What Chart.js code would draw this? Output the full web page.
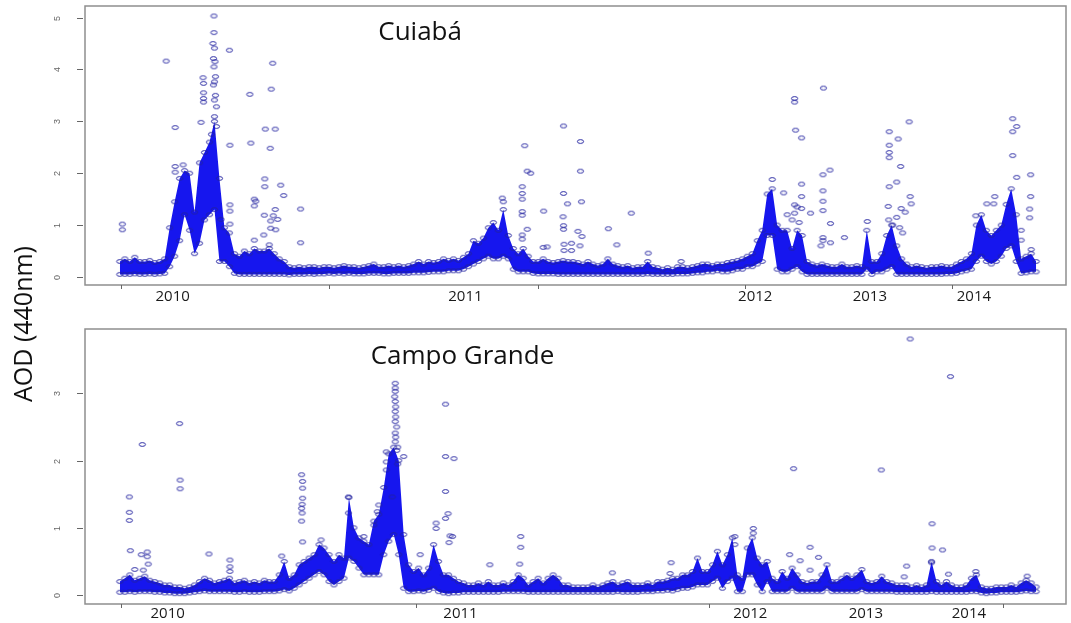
<!DOCTYPE html>
<html><head><meta charset="utf-8">
<script src="https://cdn.jsdelivr.net/npm/chart.js@4.4.1/dist/chart.umd.min.js"></script>
<style>
html,body{margin:0;padding:0;background:#fff;width:1071px;height:623px;overflow:hidden}
#wrap{position:relative;width:1071px;height:623px}
#c1{position:absolute;left:0;top:0}
#c2{position:absolute;left:0;top:310px}
#ytitle{position:absolute;left:22px;top:324px;transform:translate(-50%,-50%) rotate(-90deg);font:25px 'Open Sans';white-space:nowrap;color:#111}
</style></head>
<body><div id="wrap">
<canvas id="c1" width="1071" height="310"></canvas>
<canvas id="c2" width="1071" height="313"></canvas>
<div id="ytitle">AOD (440nm)</div>
</div>
<script>
// ---- DATA (x = sampling step index, y = AOD 440nm) ----
const yearLabels = ['2010','2011','2012','2013','2014'];

const cuiabaLow = [.05,.05,.05,.06,.05,.05,.06,.05,.06,.07,.2,.4,.7,1.2,.9,.45,.65,1.1,1.2,1.3,
.3,.3,.2,.07,.05,.05,.05,.05,.05,.05,.05,.05,.05,.05,.04,.05,.05,.05,.06,.05,
.06,.06,.07,.06,.07,.06,.07,.06,.06,.06,.07,.07,.07,.06,.06,.07,.07,.07,.07,.08,
.08,.08,.09,.1,.1,.1,.12,.12,.12,.15,.2,.25,.3,.35,.4,.35,.35,.4,.35,.15,
.1,.1,.1,.07,.06,.06,.06,.06,.05,.05,.05,.05,.05,.05,.05,.05,.05,.05,.05,.05,
.05,.05,.05,.05,.05,.05,.06,.05,.05,.05,.05,.05,.06,.06,.06,.07,.08,.08,.1,.1,
.12,.1,.1,.12,.15,.15,.2,.2,.25,.3,.8,.8,.15,.1,.1,.15,.2,.1,.05,.05,
.05,.05,.05,.05,.05,.05,.05,.05,.05,.05,.15,.05,.1,.1,.15,.2,.05,.05,.05,.05,
.05,.05,.05,.05,.05,.05,.06,.06,.07,.1,.12,.15,.3,.4,.3,.25,.3,.4,.55,.6,
.3,.07,.08,.1,.1];
const cuiabaHigh = [.3,.35,.3,.38,.3,.3,.32,.28,.3,.35,.95,1.45,1.9,2.05,2.0,1.25,2.2,2.4,2.6,3.0,
1.9,.95,.85,.45,.4,.5,.45,.55,.5,.5,.55,.45,.35,.3,.2,.18,.2,.18,.2,.2,
.18,.2,.2,.18,.2,.22,.2,.2,.18,.2,.22,.25,.2,.2,.22,.2,.22,.2,.22,.25,
.3,.25,.3,.28,.3,.35,.32,.35,.32,.38,.45,.7,.65,.75,.95,1.05,.9,1.3,.8,.55,
.45,.55,.4,.3,.3,.35,.3,.28,.3,.32,.3,.3,.28,.25,.3,.25,.22,.25,.35,.25,
.22,.2,.22,.18,.2,.2,.3,.2,.18,.15,.18,.15,.2,.2,.18,.2,.22,.25,.25,.22,
.25,.25,.28,.3,.32,.35,.4,.45,.7,.9,1.6,1.7,1.0,.9,.9,.55,.9,.8,.3,.25,
.22,.25,.22,.2,.2,.25,.2,.2,.22,.2,.9,.3,.3,.45,.8,1.0,.6,.35,.25,.2,
.22,.2,.18,.2,.2,.22,.2,.2,.25,.3,.35,.45,1.0,1.2,.9,.8,.9,1.0,1.4,1.7,
1.2,.35,.4,.45,.3];
const cuiabaExtra = [[0.5,1.02],[0.5,0.91],[9.3,4.16],[11.1,2.88],[11.1,2.13],[11.1,2.02],[12.7,2.16],
[16.3,2.98],[16.7,3.84],[16.8,3.73],[16.8,3.55],[16.8,3.44],[16.8,3.37],[18.9,5.03],[18.9,4.71],
[18.7,4.5],[19.0,4.41],[18.8,4.21],[19.1,4.15],[18.9,4.05],[19.2,3.86],[19.0,3.76],[18.8,3.7],
[19.2,3.5],[19.0,3.41],[19.4,3.28],[19.0,3.09],[19.4,2.9],[18.4,2.75],
[22,4.37],[22.1,2.54],[26.1,3.52],[26.3,2.58],[30.7,4.12],[30.4,3.62],[29.2,2.85],[31.2,2.85],
[30.2,2.48],[29.1,1.89],[29.1,1.74],[32.3,1.77],[32.9,1.57],[27,1.5],[27.3,1.46],[27,1.37],
[36.3,1.31],[31.2,1.3],[30.8,1.18],[31.7,1.11],[29,1.19],[30.3,1.08],[30.3,0.94],[31.3,0.91],
[36.3,0.66],[28.9,0.81],[27,0.71],[30,0.62],[22.1,1.39],[22.1,1.27],[20.3,1.11],[22.1,1.02],
[77,1.45],[76.8,1.52],
[80.8,1.74],[80.8,1.61],[80.8,1.5],[80.8,1.26],[80.8,1.19],[81.3,2.53],[81.8,2.04],[82.5,2.0],
[81.8,0.92],[80.8,0.81],[80.8,0.73],[85.1,1.27],[85,0.57],[85.8,0.58],[89.1,2.91],[92.5,2.61],
[92.5,2.04],[89.1,1.61],[89.9,1.41],[92.7,1.45],[89,1.16],[89.1,0.99],[89.1,0.92],[92,0.88],
[92.8,0.78],[89.2,0.63],[90.7,0.65],[92.4,0.6],[89.2,0.51],[90.7,0.51],[98.1,0.93],[99.8,0.62],
[102.7,1.23],[106.1,0.46],[112.7,0.3],
[131,1.88],[133.3,1.62],[135.5,3.44],[135.5,3.37],[135.7,2.83],[136.9,2.68],[136.9,1.79],
[136.9,1.55],[135.5,1.39],[136.9,1.32],[138.7,1.23],[135.5,1.23],[141.3,3.64],[141.2,1.97],
[142.6,2.06],[141.2,1.66],[141.2,1.46],[141.2,1.28],[142.7,1.03],[141.2,0.76],[141.2,0.7],
[142.7,0.66],[140.8,0.6],[145.5,0.76],[134,1.2],[135,1.1],[136,1.35],[136.4,1.05],
[150.1,1.07],[154.5,2.8],[154.5,2.54],[154.5,2.4],[154.5,2.3],[156.3,2.66],[158.5,2.99],
[156.8,2.13],[156,1.83],[154.5,1.74],[158.7,1.55],[158.9,1.41],[156.9,1.32],[154.3,1.36],
[157.7,1.25],[154.4,1.1],[155.2,1.0],[156,1.15],[156.6,0.95],[157.2,0.85],
[179.3,3.05],[180.1,2.9],[179.3,2.8],[179.3,2.34],[180.1,1.92],[182.9,1.97],[182.9,1.55],
[182.7,1.31],[182.7,1.14],[175.7,1.55],[174.1,1.41],[175.5,1.41],[171.9,1.18],[181,0.9],
[181,0.71],[183,0.53]];

const campoLow = [.04,.04,.05,.04,.05,.05,.05,.04,.04,.03,.03,.02,.02,.02,.03,.04,.05,.06,.05,.05,
.05,.05,.05,.04,.04,.05,.04,.04,.04,.05,.05,.05,.06,.08,.06,.1,.15,.2,.25,.3,
.35,.3,.2,.15,.2,.25,.55,.5,.4,.3,.3,.3,.3,.6,.8,.9,.6,.1,.05,.05,
.06,.05,.07,.1,.05,.03,.02,.03,.03,.04,.04,.04,.04,.04,.04,.04,.04,.05,.05,.05,
.05,.05,.04,.04,.04,.04,.04,.04,.04,.04,.04,.04,.04,.04,.04,.04,.04,.04,.04,.04,
.05,.04,.04,.04,.04,.05,.05,.05,.06,.06,.07,.06,.08,.1,.1,.12,.15,.15,.15,.2,
.25,.1,.2,.25,.05,.05,.3,.3,.15,.05,.2,.05,.05,.05,.05,.1,.05,.05,.05,.05,
.05,.05,.1,.05,.05,.05,.05,.05,.05,.08,.05,.05,.05,.05,.05,.05,.04,.04,.04,.04,
.04,.04,.04,.05,.04,.04,.04,.04,.04,.04,.04,.05,.05,.03,.02,.03,.03,.04,.04,.04,
.04,.05,.06,.05,.05];
const campoHigh = [.2,.25,.3,.22,.25,.28,.22,.2,.18,.15,.15,.12,.12,.1,.12,.15,.2,.25,.22,.18,
.2,.22,.25,.18,.2,.22,.18,.2,.18,.22,.2,.2,.3,.5,.25,.3,.45,.5,.55,.6,
.75,.7,.6,.5,.6,.55,1.45,1.0,.85,.8,.75,1.1,1.2,1.6,2.1,2.2,2.0,.9,.45,.35,
.4,.3,.4,.75,.5,.3,.3,.25,.2,.18,.15,.15,.18,.15,.2,.15,.15,.18,.15,.2,
.3,.25,.15,.2,.25,.18,.25,.3,.25,.15,.15,.12,.12,.12,.12,.15,.12,.15,.18,.2,
.15,.18,.2,.15,.15,.15,.18,.15,.2,.2,.22,.25,.25,.3,.3,.35,.55,.35,.35,.45,
.65,.45,.6,.85,.3,.25,.7,.85,.55,.45,.5,.25,.2,.35,.25,.4,.3,.2,.18,.2,
.2,.3,.45,.2,.2,.25,.3,.25,.3,.38,.2,.18,.2,.28,.2,.18,.15,.15,.15,.12,
.15,.12,.15,.5,.2,.15,.2,.15,.12,.12,.15,.25,.3,.12,.1,.1,.12,.12,.12,.15,
.12,.18,.22,.18,.12];
const campoExtra = [[1.9,1.46],[1.9,1.23],[1.9,1.11],[4.5,2.24],[12,2.55],[12.1,1.71],[12.1,1.58],
[2.1,0.66],[17.9,0.61],[5.5,0.64],[5.5,0.57],[5.7,0.46],[4.3,0.6],[3,0.38],[4.7,0.37],
[22.1,0.52],[22.1,0.42],[22.1,0.35],[32.5,0.58],[36.5,1.79],[36.7,1.69],[36.7,1.59],[36.7,1.44],
[36.6,1.35],[36.5,1.29],[36.6,1.22],[36.5,1.1],[36.7,0.79],[40.4,0.82],[45.9,1.46],[45.9,1.22],
[55.3,3.15],[55.3,3.08],[55.3,3.03],[55.2,2.95],[55.3,2.88],[55.4,2.8],[55.3,2.73],[55.4,2.65],
[55.3,2.58],[55.6,2.5],[55.3,2.41],[55.4,2.35],[55.3,2.28],[55.8,2.2],[55.6,2.15],[55.8,1.95],
[53.5,2.13],[53.5,1.98],[53.5,1.86],[54.7,1.46],[52,1.34],[51.7,1.24],[51,1.04],[49,0.87],[57,2.06],
[65.4,2.84],[65.4,2.06],[67.1,2.03],[65.4,1.54],[65.9,1.21],[65.4,1.14],[66.3,0.88],[66.8,0.87],
[66.1,0.78],[63.5,1.07],[63.5,0.99],[80.5,0.87],[80.5,0.71],[80.3,0.46],[60.3,0.6],[74.3,0.45],
[110.7,0.48],[110.5,0.32],[98.9,0.33],
[135.3,1.88],[152.9,1.86],[158.7,3.81],[166.8,3.25],[163.1,1.06],[163.1,0.7],[165.2,0.67],
[163,0.48],[158,0.43],[127.2,0.99],[127.2,0.92],[123.5,0.87],[123.5,0.75],[138.6,0.71],
[140.3,0.56],[136.6,0.51],[134.5,0.6],[138.6,0.37],[182.2,0.28],[166.4,0.31],[157.5,0.27],[171.9,0.35]];

// axis tick marks / label anchors (in sampling-index units)
const cuiabaTickMarks = [0.2, 42, 84, 125.6, 167.2];
const cuiabaLabelPos  = [10.6, 69.4, 127.6, 150.6, 171.5];
const campoTickMarks  = [0.2, 59.4, 118.4, 177.4];
const campoLabelPos   = [9.6, 68.4, 126.6, 149.8, 170.5];
const cuiabaYTicks = [0,1,2,3,4,5];
const campoYTicks  = [0,1,2,3];

// ---- rendering ----
function ellipseImg(){
  const c=document.createElement('canvas'); c.width=9; c.height=7;
  const g=c.getContext('2d');
  g.strokeStyle='rgba(35,35,160,0.95)'; g.lineWidth=1;
  g.beginPath(); g.ellipse(4.5,3.5,3.1,1.9,0,0,Math.PI*2); g.stroke();
  return c;
}
const ell = ellipseImg();

const framePlugin = {
  id:'frame',
  afterDraw(chart, args, o){
    const {ctx, chartArea:a, scales:{x,y}} = chart;
    ctx.save();
    ctx.strokeStyle='#8e8e8e'; ctx.lineWidth=1.5;
    ctx.strokeRect(a.left, a.top, a.right-a.left, a.bottom-a.top);
    ctx.strokeStyle='#666'; ctx.lineWidth=1;
    ctx.fillStyle='#666'; ctx.font='9px "Liberation Sans"';
    ctx.textAlign='center'; ctx.textBaseline='middle';
    o.yTicks.forEach(v=>{
      const py=Math.round(y.getPixelForValue(v))+0.5;
      ctx.beginPath(); ctx.moveTo(a.left-8,py); ctx.lineTo(a.left-2,py); ctx.stroke();
      ctx.save(); ctx.translate(a.left-27,py); ctx.rotate(-Math.PI/2);
      ctx.fillText(String(v),0,0); ctx.restore();
    });
    o.xTicks.forEach(v=>{
      const px=Math.round(x.getPixelForValue(v))+0.5;
      ctx.beginPath(); ctx.moveTo(px,a.bottom); ctx.lineTo(px,a.bottom+4); ctx.stroke();
    });
    ctx.fillStyle='#1a1a1a'; ctx.font='15px "Open Sans"';
    o.labels.forEach((t,k)=>{
      ctx.fillText(t, x.getPixelForValue(o.labelPos[k]), a.bottom+o.labelDy);
    });
    ctx.fillStyle='#111'; ctx.font='26px "Open Sans"';
    ctx.fillText(o.title, x.getPixelForValue(o.titleAt[0]), y.getPixelForValue(o.titleAt[1]));
    ctx.restore();
  }
};

function makeChart(id, lo, hi, extra, cfg){
  const pts = arr => arr.map((v,i)=>({x:i,y:v}));
  return new Chart(document.getElementById(id), {
    type:'scatter',
    data:{datasets:[
      {type:'line', data:pts(lo), borderWidth:0, pointRadius:0, fill:false, tension:0, order:3},
      {type:'line', data:pts(hi), borderWidth:0, pointRadius:0, fill:'-1', tension:0,
       backgroundColor:'rgb(22,22,238)', order:3},
      {data:pts(lo), pointStyle:ell, pointRadius:3, order:1},
      {data:pts(hi), pointStyle:ell, pointRadius:3, order:1},
      {data:extra.map(p=>({x:p[0],y:p[1]})), pointStyle:ell, pointRadius:3, order:1}
    ]},
    options:{
      responsive:false, animation:false, events:[],
      layout:{padding:cfg.pad},
      plugins:{legend:{display:false}, tooltip:{enabled:false},
        frame:{yTicks:cfg.yTicks, xTicks:cfg.xTicks, labels:yearLabels, labelPos:cfg.labelPos,
               labelDy:cfg.labelDy, title:cfg.title, titleAt:cfg.titleAt}},
      scales:{
        x:{type:'linear', display:false, min:-7, max:190},
        y:{type:'linear', display:false, min:cfg.ymin, max:cfg.ymax}
      }
    },
    plugins:[framePlugin]
  });
}

makeChart('c1', cuiabaLow, cuiabaHigh, cuiabaExtra, {
  pad:{left:85, right:1, top:6, bottom:25},
  ymin:-0.154, ymax:5.222, yTicks:cuiabaYTicks, xTicks:cuiabaTickMarks,
  labelPos:cuiabaLabelPos, labelDy:11.5, title:'Cuiabá', titleAt:[60.3, 4.70]
});
makeChart('c2', campoLow, campoHigh, campoExtra, {
  pad:{left:85, right:1, top:19, bottom:19},
  ymin:-0.134, ymax:3.958, yTicks:campoYTicks, xTicks:campoTickMarks,
  labelPos:campoLabelPos, labelDy:10, title:'Campo Grande', titleAt:[68.8, 3.55]
});
</script>
</body></html>
